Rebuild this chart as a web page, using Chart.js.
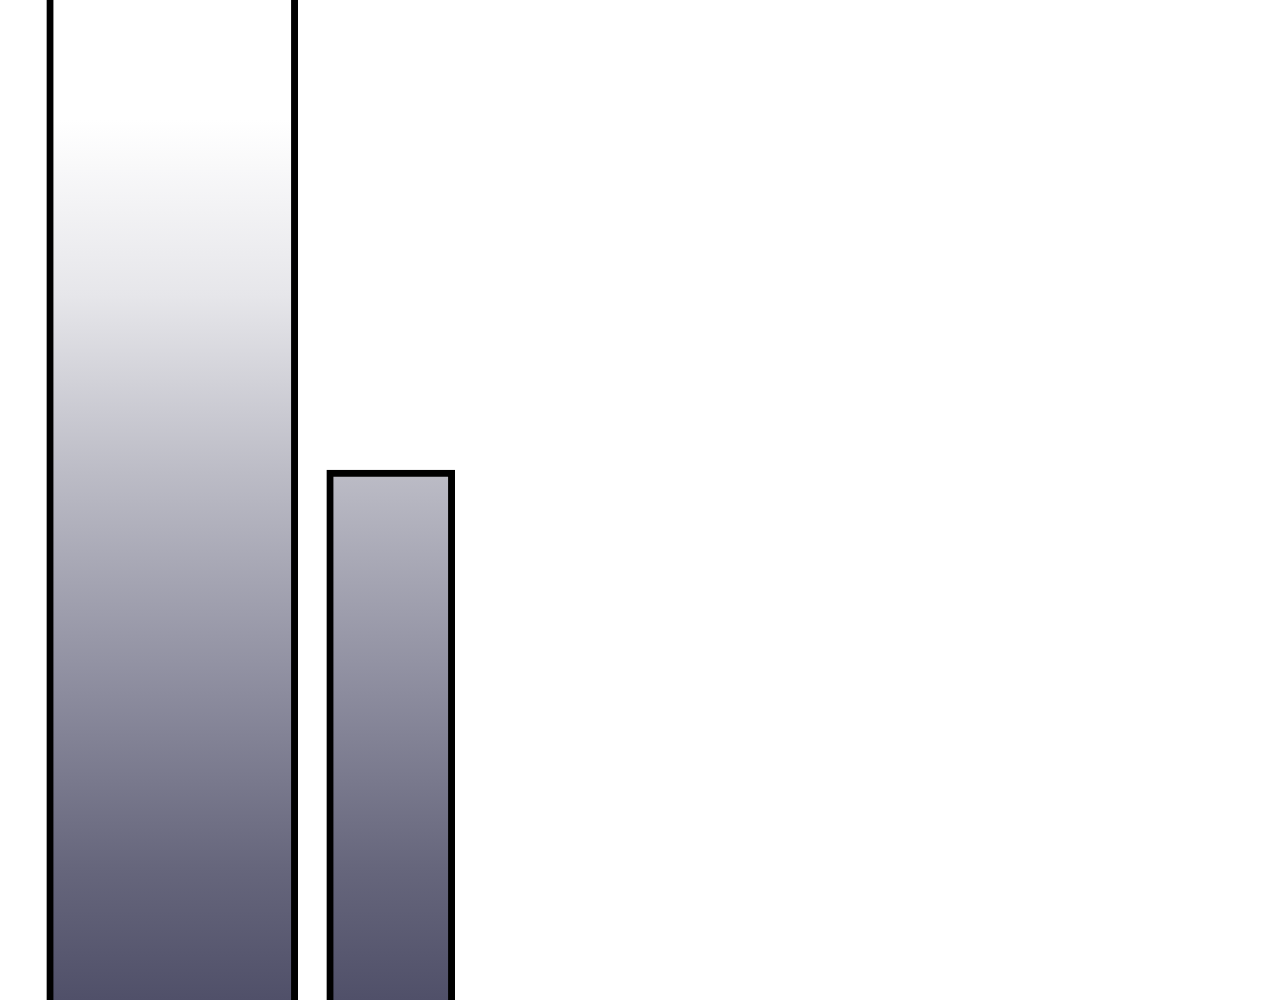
<!DOCTYPE html>
<html>
<head>
<meta charset="utf-8">
<script src="https://cdn.jsdelivr.net/npm/chart.js@4/dist/chart.umd.min.js"></script>
<style>
  html, body { margin: 0; padding: 0; background: #fff; overflow: hidden; }
  #wrap { width: 1280px; height: 1000px; position: relative; }
</style>
</head>
<body>
<div id="wrap"><canvas id="barChart"></canvas></div>
<script>
// data (first bar runs past the top edge)
const categories = ['A', 'B'];
const firstValues = [110, null];
const secondValues = [null, 53];

// gradient shared by both bars, in canvas coordinates
function barGradient(context) {
    const chart = context.chart;
    const g = chart.ctx.createLinearGradient(0, 120, 0, 1000);
    g.addColorStop(0, '#ffffff');
    g.addColorStop(0.2, '#e6e6ea');
    g.addColorStop(0.4, '#bcbcc6');
    g.addColorStop(0.65, '#8c8c9e');
    g.addColorStop(0.85, '#66667c');
    g.addColorStop(1, '#505069');
    return g;
}

const ctx = document.getElementById('barChart').getContext('2d');

let chart = new Chart(ctx, {
    type: 'bar',
    data: {
        labels: categories,
        datasets: [{
            data: firstValues,
            backgroundColor: barGradient,
            borderColor: '#000000',
            borderWidth: 7,
            barThickness: 251,
            grouped: false,
            clip: false
        }, {
            data: secondValues,
            backgroundColor: barGradient,
            borderColor: '#000000',
            borderWidth: 7,
            barThickness: 128,
            grouped: false,
            clip: false
        }]
    },
    options: {
        responsive: true,
        maintainAspectRatio: false,
        animation: false,
        layout: {
            padding: { left: 63, right: 780, top: 0, bottom: 0 }
        },
        plugins: {
            legend: { display: false },
            tooltip: { enabled: false }
        },
        scales: {
            x: { display: false },
            y: { display: false, min: 0, max: 100 }
        }
    }
});
</script>
</body>
</html>
